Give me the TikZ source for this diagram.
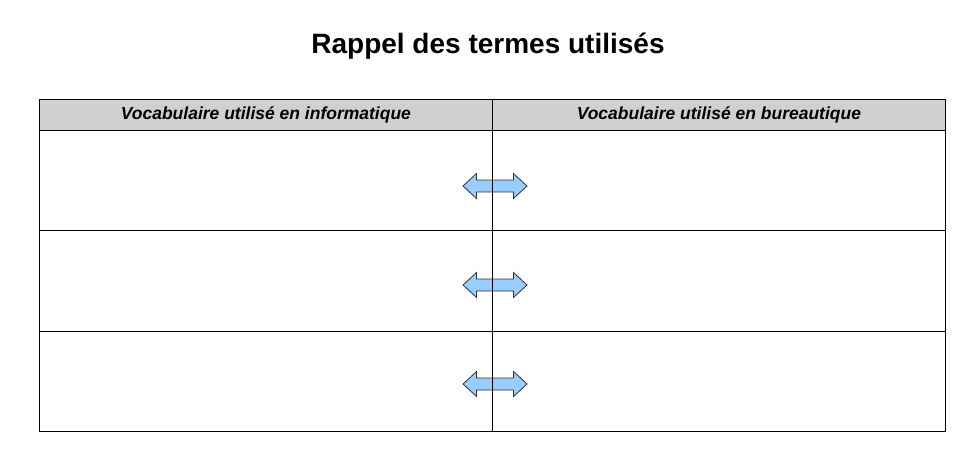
\documentclass[tikz,border=0pt]{standalone}
\usepackage{fontspec}
\setmainfont{Liberation Sans}
\definecolor{hdrgray}{HTML}{D0D0D0}
\definecolor{arrowblue}{HTML}{99CCFF}
\definecolor{arrowedge}{HTML}{333333}
\tikzset{
  cellbox/.style={draw=black, line width=0.8pt, minimum width=453pt, inner sep=0pt, anchor=north west},
  hdrbox/.style={cellbox, fill=hdrgray, minimum height=31pt, font=\fontsize{17.5}{19}\selectfont\bfseries\itshape},
  rowbox/.style={cellbox, fill=white},
  dblarrow/.style={draw=arrowedge, fill=arrowblue, line width=0.8pt, line join=miter},
}
\newcommand{\dblarrowat}[1]{%
  \path[dblarrow] ($(#1)+(-32,0)$) -- ($(#1)+(-18.5,-12.5)$) -- ($(#1)+(-18.5,-6)$)
    -- ($(#1)+(18.5,-6)$) -- ($(#1)+(18.5,-12.5)$) -- ($(#1)+(32,0)$)
    -- ($(#1)+(18.5,12.5)$) -- ($(#1)+(18.5,6)$) -- ($(#1)+(-18.5,6)$)
    -- ($(#1)+(-18.5,12.5)$) -- cycle;}
\usetikzlibrary{calc}
\begin{document}
\begin{tikzpicture}[x=1pt,y=-1pt]
\useasboundingbox (0,0) rectangle (975,451);
\node[font=\fontsize{28}{30}\selectfont\bfseries] (title) at (488,46) {Rappel des termes utilisés};
% header
\node[hdrbox] (hl) at (39,99) {Vocabulaire utilisé en informatique};
\node[hdrbox] (hr) at (492,99) {Vocabulaire utilisé en bureautique};
% rows
\node[rowbox, minimum height=100pt] (l1) at (39,130) {};
\node[rowbox, minimum height=100pt] (r1) at (492,130) {};
\node[rowbox, minimum height=101pt] (l2) at (39,230) {};
\node[rowbox, minimum height=101pt] (r2) at (492,230) {};
\node[rowbox, minimum height=100pt] (l3) at (39,331) {};
\node[rowbox, minimum height=100pt] (r3) at (492,331) {};
% arrows
\coordinate (a1) at (495,186);
\coordinate (a2) at (495,285);
\coordinate (a3) at (495,384);
\dblarrowat{a1}
\dblarrowat{a2}
\dblarrowat{a3}
% middle line on top
\draw[line width=0.8pt] (hl.south east) -- (l3.south east);
\end{tikzpicture}
\end{document}
